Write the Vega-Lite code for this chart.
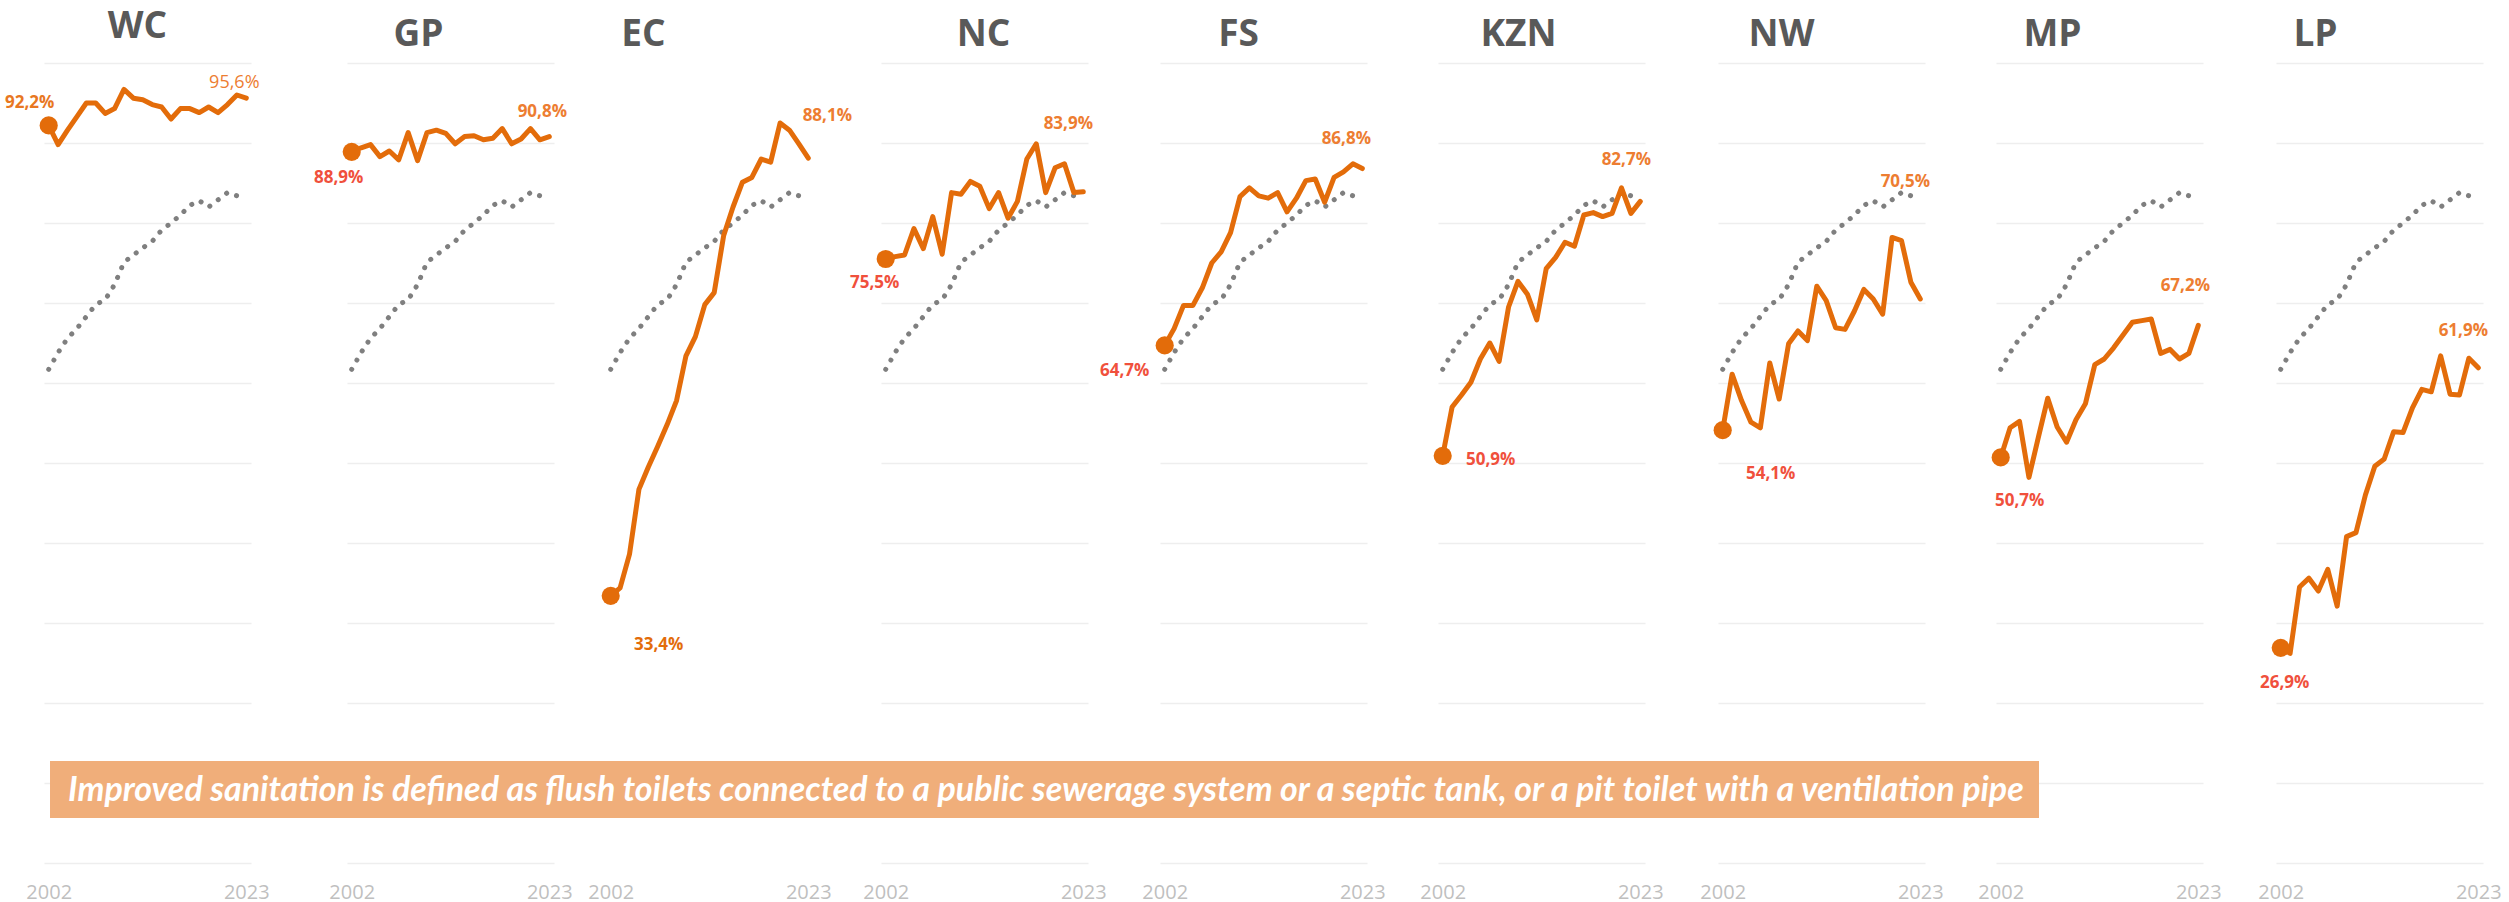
{
  "$schema": "https://vega.github.io/schema/vega-lite/v6.json",
  "background": "white",
  "padding": {"left": 5, "top": 8, "right": 5, "bottom": 0},
  "spacing": 0,
  "bounds": "flush",
  "datasets": {
    "national": [
      {"year": 2002, "v": 0.617}, {"year": 2003, "v": 0.638}, {"year": 2004, "v": 0.656}, {"year": 2005, "v": 0.668},
      {"year": 2006, "v": 0.683}, {"year": 2007, "v": 0.698}, {"year": 2008, "v": 0.704}, {"year": 2009, "v": 0.723},
      {"year": 2010, "v": 0.751}, {"year": 2011, "v": 0.760}, {"year": 2012, "v": 0.769}, {"year": 2013, "v": 0.777},
      {"year": 2014, "v": 0.791}, {"year": 2015, "v": 0.800}, {"year": 2016, "v": 0.810}, {"year": 2017, "v": 0.822},
      {"year": 2018, "v": 0.828}, {"year": 2019, "v": 0.820}, {"year": 2020, "v": 0.829}, {"year": 2021, "v": 0.838},
      {"year": 2022, "v": 0.834}, {"year": 2023, "v": 0.832}
    ],
    "note": [
      {"note": "Improved sanitation is defined as flush toilets connected to a public sewerage system or a septic tank, or a pit toilet with a ventilation pipe"}
    ],
    "prov": [
      {"p": "WC", "year": 2002, "v": 0.922}, {"p": "WC", "year": 2003, "v": 0.898}, {"p": "WC", "year": 2004, "v": 0.916}, {"p": "WC", "year": 2005, "v": 0.933},
      {"p": "WC", "year": 2006, "v": 0.950}, {"p": "WC", "year": 2007, "v": 0.950}, {"p": "WC", "year": 2008, "v": 0.937}, {"p": "WC", "year": 2009, "v": 0.943},
      {"p": "WC", "year": 2010, "v": 0.967}, {"p": "WC", "year": 2011, "v": 0.956}, {"p": "WC", "year": 2012, "v": 0.954}, {"p": "WC", "year": 2013, "v": 0.948},
      {"p": "WC", "year": 2014, "v": 0.945}, {"p": "WC", "year": 2015, "v": 0.930}, {"p": "WC", "year": 2016, "v": 0.943}, {"p": "WC", "year": 2017, "v": 0.943},
      {"p": "WC", "year": 2018, "v": 0.938}, {"p": "WC", "year": 2019, "v": 0.945}, {"p": "WC", "year": 2020, "v": 0.938}, {"p": "WC", "year": 2021, "v": 0.948},
      {"p": "WC", "year": 2022, "v": 0.960}, {"p": "WC", "year": 2023, "v": 0.956},

      {"p": "GP", "year": 2002, "v": 0.889}, {"p": "GP", "year": 2003, "v": 0.894}, {"p": "GP", "year": 2004, "v": 0.898}, {"p": "GP", "year": 2005, "v": 0.883},
      {"p": "GP", "year": 2006, "v": 0.890}, {"p": "GP", "year": 2007, "v": 0.879}, {"p": "GP", "year": 2008, "v": 0.913}, {"p": "GP", "year": 2009, "v": 0.878},
      {"p": "GP", "year": 2010, "v": 0.913}, {"p": "GP", "year": 2011, "v": 0.916}, {"p": "GP", "year": 2012, "v": 0.912}, {"p": "GP", "year": 2013, "v": 0.899},
      {"p": "GP", "year": 2014, "v": 0.908}, {"p": "GP", "year": 2015, "v": 0.909}, {"p": "GP", "year": 2016, "v": 0.904}, {"p": "GP", "year": 2017, "v": 0.906},
      {"p": "GP", "year": 2018, "v": 0.918}, {"p": "GP", "year": 2019, "v": 0.899}, {"p": "GP", "year": 2020, "v": 0.905}, {"p": "GP", "year": 2021, "v": 0.918},
      {"p": "GP", "year": 2022, "v": 0.904}, {"p": "GP", "year": 2023, "v": 0.908},

      {"p": "EC", "year": 2002, "v": 0.334}, {"p": "EC", "year": 2003, "v": 0.344}, {"p": "EC", "year": 2004, "v": 0.386}, {"p": "EC", "year": 2005, "v": 0.467},
      {"p": "EC", "year": 2006, "v": 0.495}, {"p": "EC", "year": 2007, "v": 0.521}, {"p": "EC", "year": 2008, "v": 0.548}, {"p": "EC", "year": 2009, "v": 0.578},
      {"p": "EC", "year": 2010, "v": 0.634}, {"p": "EC", "year": 2011, "v": 0.658}, {"p": "EC", "year": 2012, "v": 0.698}, {"p": "EC", "year": 2013, "v": 0.713},
      {"p": "EC", "year": 2014, "v": 0.784}, {"p": "EC", "year": 2015, "v": 0.820}, {"p": "EC", "year": 2016, "v": 0.851}, {"p": "EC", "year": 2017, "v": 0.857},
      {"p": "EC", "year": 2018, "v": 0.880}, {"p": "EC", "year": 2019, "v": 0.876}, {"p": "EC", "year": 2020, "v": 0.925}, {"p": "EC", "year": 2021, "v": 0.916},
      {"p": "EC", "year": 2022, "v": 0.899}, {"p": "EC", "year": 2023, "v": 0.881},

      {"p": "NC", "year": 2002, "v": 0.755}, {"p": "NC", "year": 2003, "v": 0.758}, {"p": "NC", "year": 2004, "v": 0.760}, {"p": "NC", "year": 2005, "v": 0.793},
      {"p": "NC", "year": 2006, "v": 0.768}, {"p": "NC", "year": 2007, "v": 0.808}, {"p": "NC", "year": 2008, "v": 0.761}, {"p": "NC", "year": 2009, "v": 0.838},
      {"p": "NC", "year": 2010, "v": 0.836}, {"p": "NC", "year": 2011, "v": 0.852}, {"p": "NC", "year": 2012, "v": 0.846}, {"p": "NC", "year": 2013, "v": 0.818},
      {"p": "NC", "year": 2014, "v": 0.838}, {"p": "NC", "year": 2015, "v": 0.806}, {"p": "NC", "year": 2016, "v": 0.827}, {"p": "NC", "year": 2017, "v": 0.880},
      {"p": "NC", "year": 2018, "v": 0.899}, {"p": "NC", "year": 2019, "v": 0.838}, {"p": "NC", "year": 2020, "v": 0.869}, {"p": "NC", "year": 2021, "v": 0.874},
      {"p": "NC", "year": 2022, "v": 0.838}, {"p": "NC", "year": 2023, "v": 0.839},

      {"p": "FS", "year": 2002, "v": 0.647}, {"p": "FS", "year": 2003, "v": 0.668}, {"p": "FS", "year": 2004, "v": 0.697}, {"p": "FS", "year": 2005, "v": 0.697},
      {"p": "FS", "year": 2006, "v": 0.719}, {"p": "FS", "year": 2007, "v": 0.750}, {"p": "FS", "year": 2008, "v": 0.764}, {"p": "FS", "year": 2009, "v": 0.788},
      {"p": "FS", "year": 2010, "v": 0.833}, {"p": "FS", "year": 2011, "v": 0.844}, {"p": "FS", "year": 2012, "v": 0.834}, {"p": "FS", "year": 2013, "v": 0.831},
      {"p": "FS", "year": 2014, "v": 0.838}, {"p": "FS", "year": 2015, "v": 0.814}, {"p": "FS", "year": 2016, "v": 0.831}, {"p": "FS", "year": 2017, "v": 0.853},
      {"p": "FS", "year": 2018, "v": 0.855}, {"p": "FS", "year": 2019, "v": 0.826}, {"p": "FS", "year": 2020, "v": 0.857}, {"p": "FS", "year": 2021, "v": 0.864},
      {"p": "FS", "year": 2022, "v": 0.874}, {"p": "FS", "year": 2023, "v": 0.868},

      {"p": "KZN", "year": 2002, "v": 0.509}, {"p": "KZN", "year": 2003, "v": 0.570}, {"p": "KZN", "year": 2004, "v": 0.585}, {"p": "KZN", "year": 2005, "v": 0.601},
      {"p": "KZN", "year": 2006, "v": 0.630}, {"p": "KZN", "year": 2007, "v": 0.650}, {"p": "KZN", "year": 2008, "v": 0.627}, {"p": "KZN", "year": 2009, "v": 0.695},
      {"p": "KZN", "year": 2010, "v": 0.727}, {"p": "KZN", "year": 2011, "v": 0.711}, {"p": "KZN", "year": 2012, "v": 0.679}, {"p": "KZN", "year": 2013, "v": 0.743},
      {"p": "KZN", "year": 2014, "v": 0.757}, {"p": "KZN", "year": 2015, "v": 0.776}, {"p": "KZN", "year": 2016, "v": 0.771}, {"p": "KZN", "year": 2017, "v": 0.810},
      {"p": "KZN", "year": 2018, "v": 0.813}, {"p": "KZN", "year": 2019, "v": 0.808}, {"p": "KZN", "year": 2020, "v": 0.812}, {"p": "KZN", "year": 2021, "v": 0.844},
      {"p": "KZN", "year": 2022, "v": 0.812}, {"p": "KZN", "year": 2023, "v": 0.827},

      {"p": "NW", "year": 2002, "v": 0.541}, {"p": "NW", "year": 2003, "v": 0.611}, {"p": "NW", "year": 2004, "v": 0.578}, {"p": "NW", "year": 2005, "v": 0.551},
      {"p": "NW", "year": 2006, "v": 0.544}, {"p": "NW", "year": 2007, "v": 0.625}, {"p": "NW", "year": 2008, "v": 0.580}, {"p": "NW", "year": 2009, "v": 0.649},
      {"p": "NW", "year": 2010, "v": 0.665}, {"p": "NW", "year": 2011, "v": 0.653}, {"p": "NW", "year": 2012, "v": 0.721}, {"p": "NW", "year": 2013, "v": 0.703},
      {"p": "NW", "year": 2014, "v": 0.669}, {"p": "NW", "year": 2015, "v": 0.667}, {"p": "NW", "year": 2016, "v": 0.690}, {"p": "NW", "year": 2017, "v": 0.717},
      {"p": "NW", "year": 2018, "v": 0.705}, {"p": "NW", "year": 2019, "v": 0.686}, {"p": "NW", "year": 2020, "v": 0.782}, {"p": "NW", "year": 2021, "v": 0.778},
      {"p": "NW", "year": 2022, "v": 0.726}, {"p": "NW", "year": 2023, "v": 0.705},

      {"p": "MP", "year": 2002, "v": 0.507}, {"p": "MP", "year": 2003, "v": 0.544}, {"p": "MP", "year": 2004, "v": 0.552}, {"p": "MP", "year": 2005, "v": 0.482},
      {"p": "MP", "year": 2006, "v": 0.532}, {"p": "MP", "year": 2007, "v": 0.581}, {"p": "MP", "year": 2008, "v": 0.545}, {"p": "MP", "year": 2009, "v": 0.526},
      {"p": "MP", "year": 2010, "v": 0.554}, {"p": "MP", "year": 2011, "v": 0.574}, {"p": "MP", "year": 2012, "v": 0.623}, {"p": "MP", "year": 2013, "v": 0.630},
      {"p": "MP", "year": 2014, "v": 0.644}, {"p": "MP", "year": 2015, "v": 0.660}, {"p": "MP", "year": 2016, "v": 0.676}, {"p": "MP", "year": 2017, "v": 0.678},
      {"p": "MP", "year": 2018, "v": 0.680}, {"p": "MP", "year": 2019, "v": 0.637}, {"p": "MP", "year": 2020, "v": 0.642}, {"p": "MP", "year": 2021, "v": 0.630},
      {"p": "MP", "year": 2022, "v": 0.637}, {"p": "MP", "year": 2023, "v": 0.672},

      {"p": "LP", "year": 2002, "v": 0.269}, {"p": "LP", "year": 2003, "v": 0.262}, {"p": "LP", "year": 2004, "v": 0.345}, {"p": "LP", "year": 2005, "v": 0.356},
      {"p": "LP", "year": 2006, "v": 0.340}, {"p": "LP", "year": 2007, "v": 0.367}, {"p": "LP", "year": 2008, "v": 0.321}, {"p": "LP", "year": 2009, "v": 0.408},
      {"p": "LP", "year": 2010, "v": 0.413}, {"p": "LP", "year": 2011, "v": 0.460}, {"p": "LP", "year": 2012, "v": 0.496}, {"p": "LP", "year": 2013, "v": 0.505},
      {"p": "LP", "year": 2014, "v": 0.539}, {"p": "LP", "year": 2015, "v": 0.538}, {"p": "LP", "year": 2016, "v": 0.569}, {"p": "LP", "year": 2017, "v": 0.592},
      {"p": "LP", "year": 2018, "v": 0.589}, {"p": "LP", "year": 2019, "v": 0.634}, {"p": "LP", "year": 2020, "v": 0.586}, {"p": "LP", "year": 2021, "v": 0.585},
      {"p": "LP", "year": 2022, "v": 0.631}, {"p": "LP", "year": 2023, "v": 0.619}
    ]
  },
  "hconcat": [
    {
      "width": 207, "height": 800,
      "title": {"text": "WC", "dx": -10, "dy": -8},
      "encoding": {
        "x": {"field": "year", "type": "quantitative", "scale": {"domain": [2001.5, 2023.5], "nice": false, "zero": false}, "axis": {"values": [2002, 2023], "format": "d", "title": null, "grid": false, "ticks": false, "domain": false, "labelFont": "Open Sans", "labelFontSize": 20, "labelColor": "#BFBFBF", "labelPadding": 19, "labelOverlap": false, "labelFlush": false}},
        "y": {"field": "v", "type": "quantitative", "scale": {"domain": [0, 1], "nice": false}, "axis": {"values": [0, 0.1, 0.2, 0.3, 0.4, 0.5, 0.6, 0.7, 0.8, 0.9, 1], "grid": true, "gridColor": "#EEEEEE", "gridWidth": 1.5, "labels": false, "ticks": false, "domain": false, "title": null}}
      },
      "layer": [
        {"data": {"name": "national"}, "mark": {"type": "line", "color": "#7F7F7F", "strokeWidth": 5, "strokeDash": [0.1, 10.5], "strokeCap": "round"}, "encoding": {}},
        {"data": {"name": "prov"}, "transform": [{"filter": "datum.p === 'WC'"}], "mark": {"type": "line", "color": "#E36C0A", "strokeWidth": 5, "strokeJoin": "round", "strokeCap": "round"}, "encoding": {}},
        {"data": {"name": "prov"}, "transform": [{"filter": "datum.p === 'WC' && datum.year === 2002"}], "mark": {"type": "circle", "size": 330, "color": "#E36C0A", "opacity": 1}},
        {"data": {"name": "prov"}, "transform": [{"filter": "datum.p === 'WC' && datum.year === 2002"}], "mark": {"type": "text", "dx": -19, "dy": -22, "fontSize": 17, "fontWeight": "bold", "color": "#E87722"}, "encoding": {"text": {"field": "v", "type": "quantitative", "format": ".1%"}}},
        {"data": {"name": "prov"}, "transform": [{"filter": "datum.p === 'WC' && datum.year === 2023"}], "mark": {"type": "text", "dx": -12, "dy": -15, "fontSize": 18, "fontWeight": "normal", "color": "#ED7D31"}, "encoding": {"text": {"field": "v", "type": "quantitative", "format": ".1%"}}}
      ]
    },
    {"width": 96, "height": 800, "data": {"values": []}, "mark": "point"},
    {
      "width": 207, "height": 800,
      "title": {"text": "GP", "dx": -32},
      "encoding": {
        "x": {"field": "year", "type": "quantitative", "scale": {"domain": [2001.5, 2023.5], "nice": false, "zero": false}, "axis": {"values": [2002, 2023], "format": "d", "title": null, "grid": false, "ticks": false, "domain": false, "labelFont": "Open Sans", "labelFontSize": 20, "labelColor": "#BFBFBF", "labelPadding": 19, "labelOverlap": false, "labelFlush": false}},
        "y": {"field": "v", "type": "quantitative", "scale": {"domain": [0, 1], "nice": false}, "axis": {"values": [0, 0.1, 0.2, 0.3, 0.4, 0.5, 0.6, 0.7, 0.8, 0.9, 1], "grid": true, "gridColor": "#EEEEEE", "gridWidth": 1.5, "labels": false, "ticks": false, "domain": false, "title": null}}
      },
      "layer": [
        {"data": {"name": "national"}, "mark": {"type": "line", "color": "#7F7F7F", "strokeWidth": 5, "strokeDash": [0.1, 10.5], "strokeCap": "round"}, "encoding": {}},
        {"data": {"name": "prov"}, "transform": [{"filter": "datum.p === 'GP'"}], "mark": {"type": "line", "color": "#E36C0A", "strokeWidth": 5, "strokeJoin": "round", "strokeCap": "round"}, "encoding": {}},
        {"data": {"name": "prov"}, "transform": [{"filter": "datum.p === 'GP' && datum.year === 2002"}], "mark": {"type": "circle", "size": 330, "color": "#E36C0A", "opacity": 1}},
        {"data": {"name": "prov"}, "transform": [{"filter": "datum.p === 'GP' && datum.year === 2002"}], "mark": {"type": "text", "dx": -13, "dy": 26, "fontSize": 17, "fontWeight": "bold", "color": "#F0503C"}, "encoding": {"text": {"field": "v", "type": "quantitative", "format": ".1%"}}},
        {"data": {"name": "prov"}, "transform": [{"filter": "datum.p === 'GP' && datum.year === 2023"}], "mark": {"type": "text", "dx": -7, "dy": -25, "fontSize": 17, "fontWeight": "bold", "color": "#ED7D31"}, "encoding": {"text": {"field": "v", "type": "quantitative", "format": ".1%"}}}
      ]
    },
    {"width": 52, "height": 800, "data": {"values": []}, "mark": "point"},
    {
      "width": 207, "height": 800,
      "title": {"text": "EC", "dx": -66},
      "encoding": {
        "x": {"field": "year", "type": "quantitative", "scale": {"domain": [2001.5, 2023.5], "nice": false, "zero": false}, "axis": {"values": [2002, 2023], "format": "d", "title": null, "grid": false, "ticks": false, "domain": false, "labelFont": "Open Sans", "labelFontSize": 20, "labelColor": "#BFBFBF", "labelPadding": 19, "labelOverlap": false, "labelFlush": false}},
        "y": {"field": "v", "type": "quantitative", "scale": {"domain": [0, 1], "nice": false}, "axis": null}
      },
      "layer": [
        {"data": {"name": "national"}, "mark": {"type": "line", "color": "#7F7F7F", "strokeWidth": 5, "strokeDash": [0.1, 10.5], "strokeCap": "round"}, "encoding": {}},
        {"data": {"name": "prov"}, "transform": [{"filter": "datum.p === 'EC'"}], "mark": {"type": "line", "color": "#E36C0A", "strokeWidth": 5, "strokeJoin": "round", "strokeCap": "round"}, "encoding": {}},
        {"data": {"name": "prov"}, "transform": [{"filter": "datum.p === 'EC' && datum.year === 2002"}], "mark": {"type": "circle", "size": 330, "color": "#E36C0A", "opacity": 1}},
        {"data": {"name": "prov"}, "transform": [{"filter": "datum.p === 'EC' && datum.year === 2002"}], "mark": {"type": "text", "dx": 48, "dy": 49, "fontSize": 17, "fontWeight": "bold", "color": "#E36C0A"}, "encoding": {"text": {"field": "v", "type": "quantitative", "format": ".1%"}}},
        {"data": {"name": "prov"}, "transform": [{"filter": "datum.p === 'EC' && datum.year === 2023"}], "mark": {"type": "text", "dx": 19, "dy": -42, "fontSize": 17, "fontWeight": "bold", "color": "#ED7D31"}, "encoding": {"text": {"field": "v", "type": "quantitative", "format": ".1%"}}}
      ]
    },
    {"width": 68, "height": 800, "data": {"values": []}, "mark": "point"},
    {
      "width": 207, "height": 800,
      "title": {"text": "NC", "dx": -1},
      "encoding": {
        "x": {"field": "year", "type": "quantitative", "scale": {"domain": [2001.5, 2023.5], "nice": false, "zero": false}, "axis": {"values": [2002, 2023], "format": "d", "title": null, "grid": false, "ticks": false, "domain": false, "labelFont": "Open Sans", "labelFontSize": 20, "labelColor": "#BFBFBF", "labelPadding": 19, "labelOverlap": false, "labelFlush": false}},
        "y": {"field": "v", "type": "quantitative", "scale": {"domain": [0, 1], "nice": false}, "axis": {"values": [0, 0.1, 0.2, 0.3, 0.4, 0.5, 0.6, 0.7, 0.8, 0.9, 1], "grid": true, "gridColor": "#EEEEEE", "gridWidth": 1.5, "labels": false, "ticks": false, "domain": false, "title": null}}
      },
      "layer": [
        {"data": {"name": "national"}, "mark": {"type": "line", "color": "#7F7F7F", "strokeWidth": 5, "strokeDash": [0.1, 10.5], "strokeCap": "round"}, "encoding": {}},
        {"data": {"name": "prov"}, "transform": [{"filter": "datum.p === 'NC'"}], "mark": {"type": "line", "color": "#E36C0A", "strokeWidth": 5, "strokeJoin": "round", "strokeCap": "round"}, "encoding": {}},
        {"data": {"name": "prov"}, "transform": [{"filter": "datum.p === 'NC' && datum.year === 2002"}], "mark": {"type": "circle", "size": 330, "color": "#E36C0A", "opacity": 1}},
        {"data": {"name": "prov"}, "transform": [{"filter": "datum.p === 'NC' && datum.year === 2002"}], "mark": {"type": "text", "dx": -11, "dy": 24, "fontSize": 17, "fontWeight": "bold", "color": "#F0503C"}, "encoding": {"text": {"field": "v", "type": "quantitative", "format": ".1%"}}},
        {"data": {"name": "prov"}, "transform": [{"filter": "datum.p === 'NC' && datum.year === 2023"}], "mark": {"type": "text", "dx": -15, "dy": -68, "fontSize": 17, "fontWeight": "bold", "color": "#ED7D31"}, "encoding": {"text": {"field": "v", "type": "quantitative", "format": ".1%"}}}
      ]
    },
    {"width": 72, "height": 800, "data": {"values": []}, "mark": "point"},
    {
      "width": 207, "height": 800,
      "title": {"text": "FS", "dx": -25},
      "encoding": {
        "x": {"field": "year", "type": "quantitative", "scale": {"domain": [2001.5, 2023.5], "nice": false, "zero": false}, "axis": {"values": [2002, 2023], "format": "d", "title": null, "grid": false, "ticks": false, "domain": false, "labelFont": "Open Sans", "labelFontSize": 20, "labelColor": "#BFBFBF", "labelPadding": 19, "labelOverlap": false, "labelFlush": false}},
        "y": {"field": "v", "type": "quantitative", "scale": {"domain": [0, 1], "nice": false}, "axis": {"values": [0, 0.1, 0.2, 0.3, 0.4, 0.5, 0.6, 0.7, 0.8, 0.9, 1], "grid": true, "gridColor": "#EEEEEE", "gridWidth": 1.5, "labels": false, "ticks": false, "domain": false, "title": null}}
      },
      "layer": [
        {"data": {"name": "national"}, "mark": {"type": "line", "color": "#7F7F7F", "strokeWidth": 5, "strokeDash": [0.1, 10.5], "strokeCap": "round"}, "encoding": {}},
        {"data": {"name": "prov"}, "transform": [{"filter": "datum.p === 'FS'"}], "mark": {"type": "line", "color": "#E36C0A", "strokeWidth": 5, "strokeJoin": "round", "strokeCap": "round"}, "encoding": {}},
        {"data": {"name": "prov"}, "transform": [{"filter": "datum.p === 'FS' && datum.year === 2002"}], "mark": {"type": "circle", "size": 330, "color": "#E36C0A", "opacity": 1}},
        {"data": {"name": "prov"}, "transform": [{"filter": "datum.p === 'FS' && datum.year === 2002"}], "mark": {"type": "text", "dx": -40, "dy": 26, "fontSize": 17, "fontWeight": "bold", "color": "#F0503C"}, "encoding": {"text": {"field": "v", "type": "quantitative", "format": ".1%"}}},
        {"data": {"name": "prov"}, "transform": [{"filter": "datum.p === 'FS' && datum.year === 2023"}], "mark": {"type": "text", "dx": -16, "dy": -30, "fontSize": 17, "fontWeight": "bold", "color": "#ED7D31"}, "encoding": {"text": {"field": "v", "type": "quantitative", "format": ".1%"}}}
      ]
    },
    {"width": 71, "height": 800, "data": {"values": []}, "mark": "point"},
    {
      "width": 207, "height": 800,
      "title": {"text": "KZN", "dx": -23},
      "encoding": {
        "x": {"field": "year", "type": "quantitative", "scale": {"domain": [2001.5, 2023.5], "nice": false, "zero": false}, "axis": {"values": [2002, 2023], "format": "d", "title": null, "grid": false, "ticks": false, "domain": false, "labelFont": "Open Sans", "labelFontSize": 20, "labelColor": "#BFBFBF", "labelPadding": 19, "labelOverlap": false, "labelFlush": false}},
        "y": {"field": "v", "type": "quantitative", "scale": {"domain": [0, 1], "nice": false}, "axis": {"values": [0, 0.1, 0.2, 0.3, 0.4, 0.5, 0.6, 0.7, 0.8, 0.9, 1], "grid": true, "gridColor": "#EEEEEE", "gridWidth": 1.5, "labels": false, "ticks": false, "domain": false, "title": null}}
      },
      "layer": [
        {"data": {"name": "national"}, "mark": {"type": "line", "color": "#7F7F7F", "strokeWidth": 5, "strokeDash": [0.1, 10.5], "strokeCap": "round"}, "encoding": {}},
        {"data": {"name": "prov"}, "transform": [{"filter": "datum.p === 'KZN'"}], "mark": {"type": "line", "color": "#E36C0A", "strokeWidth": 5, "strokeJoin": "round", "strokeCap": "round"}, "encoding": {}},
        {"data": {"name": "prov"}, "transform": [{"filter": "datum.p === 'KZN' && datum.year === 2002"}], "mark": {"type": "circle", "size": 330, "color": "#E36C0A", "opacity": 1}},
        {"data": {"name": "prov"}, "transform": [{"filter": "datum.p === 'KZN' && datum.year === 2002"}], "mark": {"type": "text", "dx": 48, "dy": 4, "fontSize": 17, "fontWeight": "bold", "color": "#F0503C"}, "encoding": {"text": {"field": "v", "type": "quantitative", "format": ".1%"}}},
        {"data": {"name": "prov"}, "transform": [{"filter": "datum.p === 'KZN' && datum.year === 2023"}], "mark": {"type": "text", "dx": -14, "dy": -41, "fontSize": 17, "fontWeight": "bold", "color": "#ED7D31"}, "encoding": {"text": {"field": "v", "type": "quantitative", "format": ".1%"}}}
      ]
    },
    {"width": 73, "height": 800, "data": {"values": []}, "mark": "point"},
    {
      "width": 207, "height": 800,
      "title": {"text": "NW", "dx": -40},
      "encoding": {
        "x": {"field": "year", "type": "quantitative", "scale": {"domain": [2001.5, 2023.5], "nice": false, "zero": false}, "axis": {"values": [2002, 2023], "format": "d", "title": null, "grid": false, "ticks": false, "domain": false, "labelFont": "Open Sans", "labelFontSize": 20, "labelColor": "#BFBFBF", "labelPadding": 19, "labelOverlap": false, "labelFlush": false}},
        "y": {"field": "v", "type": "quantitative", "scale": {"domain": [0, 1], "nice": false}, "axis": {"values": [0, 0.1, 0.2, 0.3, 0.4, 0.5, 0.6, 0.7, 0.8, 0.9, 1], "grid": true, "gridColor": "#EEEEEE", "gridWidth": 1.5, "labels": false, "ticks": false, "domain": false, "title": null}}
      },
      "layer": [
        {"data": {"name": "national"}, "mark": {"type": "line", "color": "#7F7F7F", "strokeWidth": 5, "strokeDash": [0.1, 10.5], "strokeCap": "round"}, "encoding": {}},
        {"data": {"name": "prov"}, "transform": [{"filter": "datum.p === 'NW'"}], "mark": {"type": "line", "color": "#E36C0A", "strokeWidth": 5, "strokeJoin": "round", "strokeCap": "round"}, "encoding": {}},
        {"data": {"name": "prov"}, "transform": [{"filter": "datum.p === 'NW' && datum.year === 2002"}], "mark": {"type": "circle", "size": 330, "color": "#E36C0A", "opacity": 1}},
        {"data": {"name": "prov"}, "transform": [{"filter": "datum.p === 'NW' && datum.year === 2002"}], "mark": {"type": "text", "dx": 48, "dy": 44, "fontSize": 17, "fontWeight": "bold", "color": "#F0503C"}, "encoding": {"text": {"field": "v", "type": "quantitative", "format": ".1%"}}},
        {"data": {"name": "prov"}, "transform": [{"filter": "datum.p === 'NW' && datum.year === 2023"}], "mark": {"type": "text", "dx": -15, "dy": -117, "fontSize": 17, "fontWeight": "bold", "color": "#ED7D31"}, "encoding": {"text": {"field": "v", "type": "quantitative", "format": ".1%"}}}
      ]
    },
    {"width": 71, "height": 800, "data": {"values": []}, "mark": "point"},
    {
      "width": 207, "height": 800,
      "title": {"text": "MP", "dx": -47},
      "layer": [
        {"data": {"name": "national"}, "mark": {"type": "line", "color": "#7F7F7F", "strokeWidth": 5, "strokeDash": [0.1, 10.5], "strokeCap": "round"},
         "encoding": {
           "x": {"field": "year", "type": "quantitative", "scale": {"domain": [2001.5, 2023.5], "nice": false, "zero": false}, "axis": {"values": [2002, 2023], "format": "d", "title": null, "grid": false, "ticks": false, "domain": false, "labelFont": "Open Sans", "labelFontSize": 20, "labelColor": "#BFBFBF", "labelPadding": 19, "labelOverlap": false, "labelFlush": false}},
           "y": {"field": "v", "type": "quantitative", "scale": {"domain": [0, 1], "nice": false}, "axis": {"values": [0, 0.1, 0.2, 0.3, 0.4, 0.5, 0.6, 0.7, 0.8, 0.9, 1], "grid": true, "gridColor": "#EEEEEE", "gridWidth": 1.5, "labels": false, "ticks": false, "domain": false, "title": null}}
         }},
        {"data": {"name": "prov"}, "transform": [{"filter": "datum.p === 'MP'"}], "mark": {"type": "line", "color": "#E36C0A", "strokeWidth": 5, "strokeJoin": "round", "strokeCap": "round"},
         "encoding": {"x": {"field": "year", "type": "quantitative"}, "y": {"field": "v", "type": "quantitative"}}},
        {"data": {"name": "prov"}, "transform": [{"filter": "datum.p === 'MP' && datum.year === 2002"}], "mark": {"type": "circle", "size": 330, "color": "#E36C0A", "opacity": 1},
         "encoding": {"x": {"field": "year", "type": "quantitative"}, "y": {"field": "v", "type": "quantitative"}}},
        {"data": {"name": "prov"}, "transform": [{"filter": "datum.p === 'MP' && datum.year === 2002"}], "mark": {"type": "text", "dx": 19, "dy": 44, "fontSize": 17, "fontWeight": "bold", "color": "#F0503C"},
         "encoding": {"x": {"field": "year", "type": "quantitative"}, "y": {"field": "v", "type": "quantitative"}, "text": {"field": "v", "type": "quantitative", "format": ".1%"}}},
        {"data": {"name": "prov"}, "transform": [{"filter": "datum.p === 'MP' && datum.year === 2023"}], "mark": {"type": "text", "dx": -13, "dy": -39, "fontSize": 17, "fontWeight": "bold", "color": "#ED7D31"},
         "encoding": {"x": {"field": "year", "type": "quantitative"}, "y": {"field": "v", "type": "quantitative"}, "text": {"field": "v", "type": "quantitative", "format": ".1%"}}},
        {"data": {"name": "note"}, "mark": {"type": "rect", "color": "#F0AE7A", "opacity": 1, "clip": false},
         "encoding": {"x": {"datum": 1794.68, "type": "quantitative"}, "x2": {"datum": 2006.07}, "y": {"datum": 0.1275, "type": "quantitative"}, "y2": {"datum": 0.05625}}},
        {"data": {"name": "note"}, "mark": {"type": "text", "align": "left", "baseline": "middle", "font": "Lato", "fontStyle": "italic", "fontWeight": "bold", "fontSize": 34, "color": "#FFFFFF", "clip": false},
         "encoding": {"x": {"datum": 1796.6, "type": "quantitative"}, "y": {"datum": 0.09, "type": "quantitative"}, "text": {"field": "note", "type": "nominal"}}}
      ]
    },
    {"width": 73, "height": 800, "data": {"values": []}, "mark": "point"},
    {
      "width": 207, "height": 800,
      "title": {"text": "LP", "dx": -64},
      "encoding": {
        "x": {"field": "year", "type": "quantitative", "scale": {"domain": [2001.5, 2023.5], "nice": false, "zero": false}, "axis": {"values": [2002, 2023], "format": "d", "title": null, "grid": false, "ticks": false, "domain": false, "labelFont": "Open Sans", "labelFontSize": 20, "labelColor": "#BFBFBF", "labelPadding": 19, "labelOverlap": false, "labelFlush": false}},
        "y": {"field": "v", "type": "quantitative", "scale": {"domain": [0, 1], "nice": false}, "axis": {"values": [0, 0.1, 0.2, 0.3, 0.4, 0.5, 0.6, 0.7, 0.8, 0.9, 1], "grid": true, "gridColor": "#EEEEEE", "gridWidth": 1.5, "labels": false, "ticks": false, "domain": false, "title": null}}
      },
      "layer": [
        {"data": {"name": "national"}, "mark": {"type": "line", "color": "#7F7F7F", "strokeWidth": 5, "strokeDash": [0.1, 10.5], "strokeCap": "round"}, "encoding": {}},
        {"data": {"name": "prov"}, "transform": [{"filter": "datum.p === 'LP'"}], "mark": {"type": "line", "color": "#E36C0A", "strokeWidth": 5, "strokeJoin": "round", "strokeCap": "round"}, "encoding": {}},
        {"data": {"name": "prov"}, "transform": [{"filter": "datum.p === 'LP' && datum.year === 2002"}], "mark": {"type": "circle", "size": 330, "color": "#E36C0A", "opacity": 1}},
        {"data": {"name": "prov"}, "transform": [{"filter": "datum.p === 'LP' && datum.year === 2002"}], "mark": {"type": "text", "dx": 4, "dy": 35, "fontSize": 17, "fontWeight": "bold", "color": "#F0503C"}, "encoding": {"text": {"field": "v", "type": "quantitative", "format": ".1%"}}},
        {"data": {"name": "prov"}, "transform": [{"filter": "datum.p === 'LP' && datum.year === 2023"}], "mark": {"type": "text", "dx": -15, "dy": -37, "fontSize": 17, "fontWeight": "bold", "color": "#ED7D31"}, "encoding": {"text": {"field": "v", "type": "quantitative", "format": ".1%"}}}
      ]
    }
  ],
  "config": {
    "view": {"stroke": null},
    "font": "Open Sans",
    "text": {"font": "Open Sans"},
    "title": {"font": "Open Sans", "fontSize": 37, "fontWeight": "bold", "color": "#595959", "anchor": "middle", "offset": 9},
    "locale": {"number": {"decimal": ",", "thousands": ".", "grouping": [3], "currency": ["", " €"]}}
  }
}
